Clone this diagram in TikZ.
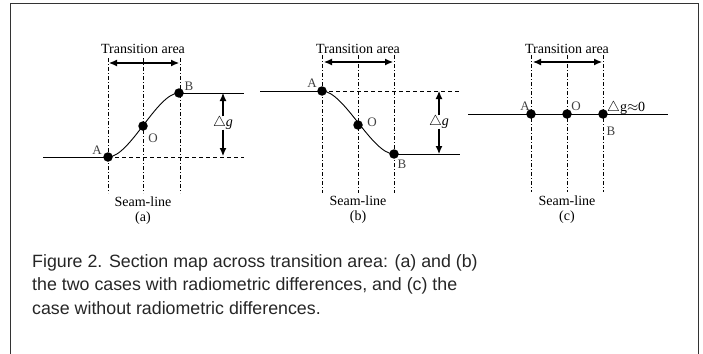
\documentclass[tikz,border=0pt]{standalone}
\usepackage{fontspec}
\setmainfont{Liberation Serif}
\newfontfamily\capfont{Liberation Sans}
\usetikzlibrary{arrows.meta}
\begin{document}
\begin{tikzpicture}[x=1pt,y=-1pt,
  dot/.style={circle,fill=black,inner sep=0pt,minimum size=9.5pt},
  dashdot/.style={line width=0.8pt,dash pattern=on 4pt off 2pt on 1pt off 2pt},
  solidline/.style={line width=0.9pt},
  dashline/.style={line width=0.8pt,dash pattern=on 4pt off 3pt},
  arr/.style={line width=1.1pt,{Latex[length=8pt,width=7pt]}-{Latex[length=8pt,width=7pt]}},
  lbl/.style={font=\fontsize{14}{16}\selectfont,inner sep=0pt},
  ptl/.style={font=\fontsize{13}{15}\selectfont,inner sep=0pt,text=black!75}]
\useasboundingbox (0,0) rectangle (703,353);
\draw[line width=1.4pt,black!80] (10.5,360) -- (10.5,3.5) -- (698.5,3.5) -- (698.5,360);
% ---------- (a)
\node[lbl] (ta) at (143,49) {Transition area};
\coordinate (a1t) at (108,58); \coordinate (a1b) at (108,193);
\coordinate (a2t) at (143,58); \coordinate (a2b) at (143,193);
\coordinate (a3t) at (180,58); \coordinate (a3b) at (180,193);
\draw[dashdot] (a1t) -- (a1b); \draw[dashdot] (a2t) -- (a2b); \draw[dashdot] (a3t) -- (a3b);
\coordinate (tal) at (109,63); \coordinate (tar) at (179,63);
\draw[arr] (tal) -- (tar);
\node[dot] (aA) at (108,157) {};
\node[dot] (aO) at (143,126) {};
\node[dot] (aB) at (179,93) {};
\coordinate (aL) at (43,157); \coordinate (aR1) at (244,93); \coordinate (aR2) at (244,157);
\draw[solidline] (aL) -- (aA.center);
\draw[dashline] (aA.center) -- (aR2);
\draw[solidline] (aB.center) -- (aR1);
\draw[solidline] (aA.center) .. controls (130,157) and (157,93) .. (aB.center);
\node[ptl] (laA) at (97,150) {A};
\node[ptl] (laO) at (153,138) {O};
\node[ptl] (laB) at (189,86) {B};
\node[lbl] (dga) at (223,123) {$\triangle$\textit{g}};
\coordinate (dat) at (223,93); \coordinate (dab) at (223,156);
\draw[line width=1.1pt,-{Latex[length=8pt,width=7pt]}] (dga.north) -- (dat);
\draw[line width=1.1pt,-{Latex[length=8pt,width=7pt]}] (dga.south) -- (dab);
\node[lbl] (sa) at (143,202) {Seam-line};
\node[lbl] (ca) at (143,218) {(a)};
% ---------- (b)
\node[lbl] (tb) at (358,49) {Transition area};
\coordinate (b1t) at (322,55); \coordinate (b1b) at (322,193);
\coordinate (b2t) at (358,55); \coordinate (b2b) at (358,193);
\coordinate (b3t) at (394,55); \coordinate (b3b) at (394,193);
\draw[dashdot] (b1t) -- (b1b); \draw[dashdot] (b2t) -- (b2b); \draw[dashdot] (b3t) -- (b3b);
\coordinate (tbl) at (324,62); \coordinate (tbr) at (393,62);
\draw[arr] (tbl) -- (tbr);
\node[dot] (bA) at (322,91) {};
\node[dot] (bO) at (358,125) {};
\node[dot] (bB) at (394,154) {};
\coordinate (bL) at (260,91); \coordinate (bR1) at (460,91); \coordinate (bR2) at (460,154);
\draw[solidline] (bL) -- (bA.center);
\draw[dashline] (bA.center) -- (bR1);
\draw[solidline] (bB.center) -- (bR2);
\draw[solidline] (bA.center) .. controls (344,91) and (372,154) .. (bB.center);
\node[ptl] (lbA) at (312,83) {A};
\node[ptl] (lbO) at (372,122) {O};
\node[ptl] (lbB) at (402,164) {B};
\node[lbl] (dgb) at (439,122) {$\triangle$\textit{g}};
\coordinate (dbt) at (439,91); \coordinate (dbb) at (439,154);
\draw[line width=1.1pt,-{Latex[length=8pt,width=7pt]}] (dgb.north) -- (dbt);
\draw[line width=1.1pt,-{Latex[length=8pt,width=7pt]}] (dgb.south) -- (dbb);
\node[lbl] (sb) at (358,201) {Seam-line};
\node[lbl] (cb) at (358,217) {(b)};
% ---------- (c)
\node[lbl] (tc) at (567,49) {Transition area};
\coordinate (c1t) at (531,55); \coordinate (c1b) at (531,192);
\coordinate (c2t) at (567,55); \coordinate (c2b) at (567,192);
\coordinate (c3t) at (603,55); \coordinate (c3b) at (603,192);
\draw[dashdot] (c1t) -- (c1b); \draw[dashdot] (c2t) -- (c2b); \draw[dashdot] (c3t) -- (c3b);
\coordinate (tcl) at (533,62); \coordinate (tcr) at (602,62);
\draw[arr] (tcl) -- (tcr);
\node[dot] (cA) at (531,114) {};
\node[dot] (cO) at (567,114) {};
\node[dot] (cB) at (603,114) {};
\coordinate (cL) at (468,114); \coordinate (cR) at (668,114);
\draw[solidline] (cL) -- (cR);
\node[ptl] (lcA) at (525,106) {A};
\node[ptl] (lcO) at (576,106) {O};
\node[ptl] (lcB) at (611,131) {B};
\node[lbl,anchor=west] (dgc) at (607,108) {$\triangle$g$\approx$0};
\node[lbl] (sc) at (567,201) {Seam-line};
\node[lbl] (cc) at (567,217) {(c)};
% ---------- caption
\node[font=\capfont\fontsize{17.8}{23.5}\selectfont,anchor=north west,align=left,inner sep=0pt,text=black!85] (cap) at (32,254)
 {Figure 2. Section map across transition area: (a) and (b)\\
  the two cases with radiometric differences, and (c) the\\
  case without radiometric differences.};
\end{tikzpicture}
\end{document}
